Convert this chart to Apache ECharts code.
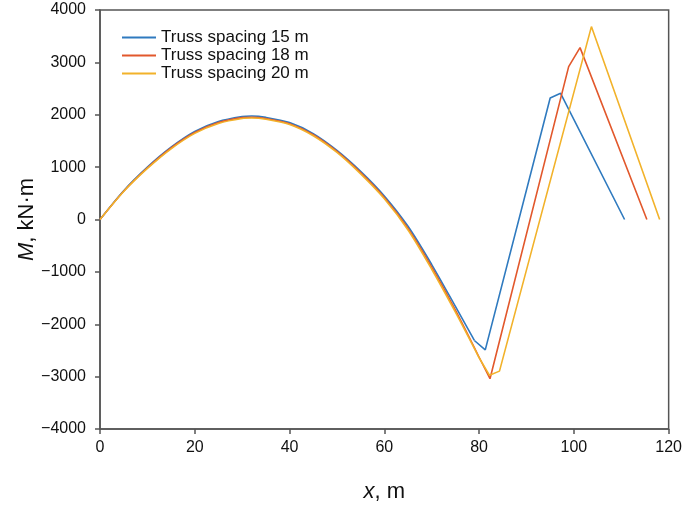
<!DOCTYPE html>
<html>
<head>
<meta charset="utf-8">
<title>Bending moment</title>
<script src="https://cdn.jsdelivr.net/npm/echarts@6/dist/echarts.min.js"></script>
<style>
  html, body { margin: 0; padding: 0; background: #fff; }
  #chart { width: 685px; height: 508px; }
</style>
</head>
<body>
<div id="chart"></div>
<script>
// x, m and M, kN·m
const x15 = [0, 5, 10, 15, 20, 25, 30, 32, 35, 40, 45, 50, 55, 60, 65, 70, 75, 79, 81.3, 95, 97.2, 110.7]
const m15 = [0, 550, 1000, 1380, 1680, 1870, 1965, 1975, 1950, 1850, 1640, 1320, 920, 450, -130, -860, -1660, -2310, -2490, 2320, 2410, 0]

const x18 = [0, 5, 10, 15, 20, 25, 30, 32, 35, 40, 45, 50, 55, 60, 65, 70, 75, 80, 82.3, 98.9, 101.3, 115.4]
const m18 = [0, 540, 985, 1365, 1660, 1850, 1945, 1952, 1930, 1830, 1620, 1300, 895, 420, -170, -910, -1730, -2630, -3040, 2918, 3281, 0]

const x20 = [0, 5, 10, 15, 20, 25, 30, 32, 35, 40, 45, 50, 55, 60, 65, 70, 75, 80, 82.2, 84.3, 103.7, 118.1]
const m20 = [0, 535, 975, 1350, 1645, 1835, 1930, 1938, 1915, 1815, 1600, 1280, 870, 395, -200, -950, -1770, -2640, -2975, -2895, 3683, 0]

const seriesNames = ['Truss spacing 15 m', 'Truss spacing 18 m', 'Truss spacing 20 m']
const colors = ['#2f7abf', '#e2582c', '#f2b22a']
// index where the smooth part ends and the straight part begins
const curveEnd = 17

function pairs(xs, ys) {
  return xs.map((x, i) => [x, ys[i]])
}

const myChart = echarts.init(document.getElementById('chart'))
const font = 'Liberation Sans, Arial, sans-serif'

const allData = [pairs(x15, m15), pairs(x18, m18), pairs(x20, m20)]
const series = []
allData.forEach((d, i) => {
  series.push({
    name: seriesNames[i], type: 'line', showSymbol: false, smooth: 0.3,
    data: d.slice(0, curveEnd + 1), lineStyle: { width: 1.6, color: colors[i] }, itemStyle: { color: colors[i] }
  })
  series.push({
    name: seriesNames[i], type: 'line', showSymbol: false,
    data: d.slice(curveEnd), lineStyle: { width: 1.6, color: colors[i] }, itemStyle: { color: colors[i] }
  })
})

const axisName = {
  fontSize: 22,
  color: '#111',
  rich: { i: { fontStyle: 'italic', fontSize: 22, color: '#111' } }
}

const option = {
  animation: false,
  color: colors,
  textStyle: { fontFamily: font },
  grid: {
    left: 100,
    right: 15,
    top: 10,
    bottom: 79,
    show: true,
    borderColor: '#555',
    borderWidth: 1.5
  },
  legend: {
    left: 117,
    top: 24,
    orient: 'vertical',
    itemWidth: 34,
    itemHeight: 2,
    itemGap: 1,
    icon: 'rect',
    textStyle: { fontSize: 17, color: '#111', fontFamily: font },
    data: seriesNames
  },
  xAxis: {
    type: 'value',
    min: 0,
    max: 120,
    interval: 20,
    name: '{i|x}, m',
    nameLocation: 'middle',
    nameGap: 52,
    nameTextStyle: axisName,
    axisLine: { onZero: false, lineStyle: { color: '#555', width: 1.5 } },
    axisTick: { show: true, inside: false, length: 5, lineStyle: { color: '#555', width: 1.5 } },
    axisLabel: { fontSize: 16, color: '#111', margin: 11 },
    splitLine: { show: false }
  },
  yAxis: {
    type: 'value',
    min: -4000,
    max: 4000,
    interval: 1000,
    name: '{i|M}, kN·m',
    nameLocation: 'middle',
    nameGap: 62,
    nameMoveOverlap: false,
    nameTextStyle: axisName,
    axisLine: { show: true, onZero: false, lineStyle: { color: '#555', width: 1.5 } },
    axisTick: { show: true, inside: false, length: 5, lineStyle: { color: '#555', width: 1.5 } },
    axisLabel: {
      fontSize: 16,
      color: '#111',
      margin: 14,
      formatter: v => (v < 0 ? '\u2212' + Math.abs(v) : String(v))
    },
    splitLine: { show: false }
  },
  series: series
}

myChart.setOption(option)
</script>
</body>
</html>
